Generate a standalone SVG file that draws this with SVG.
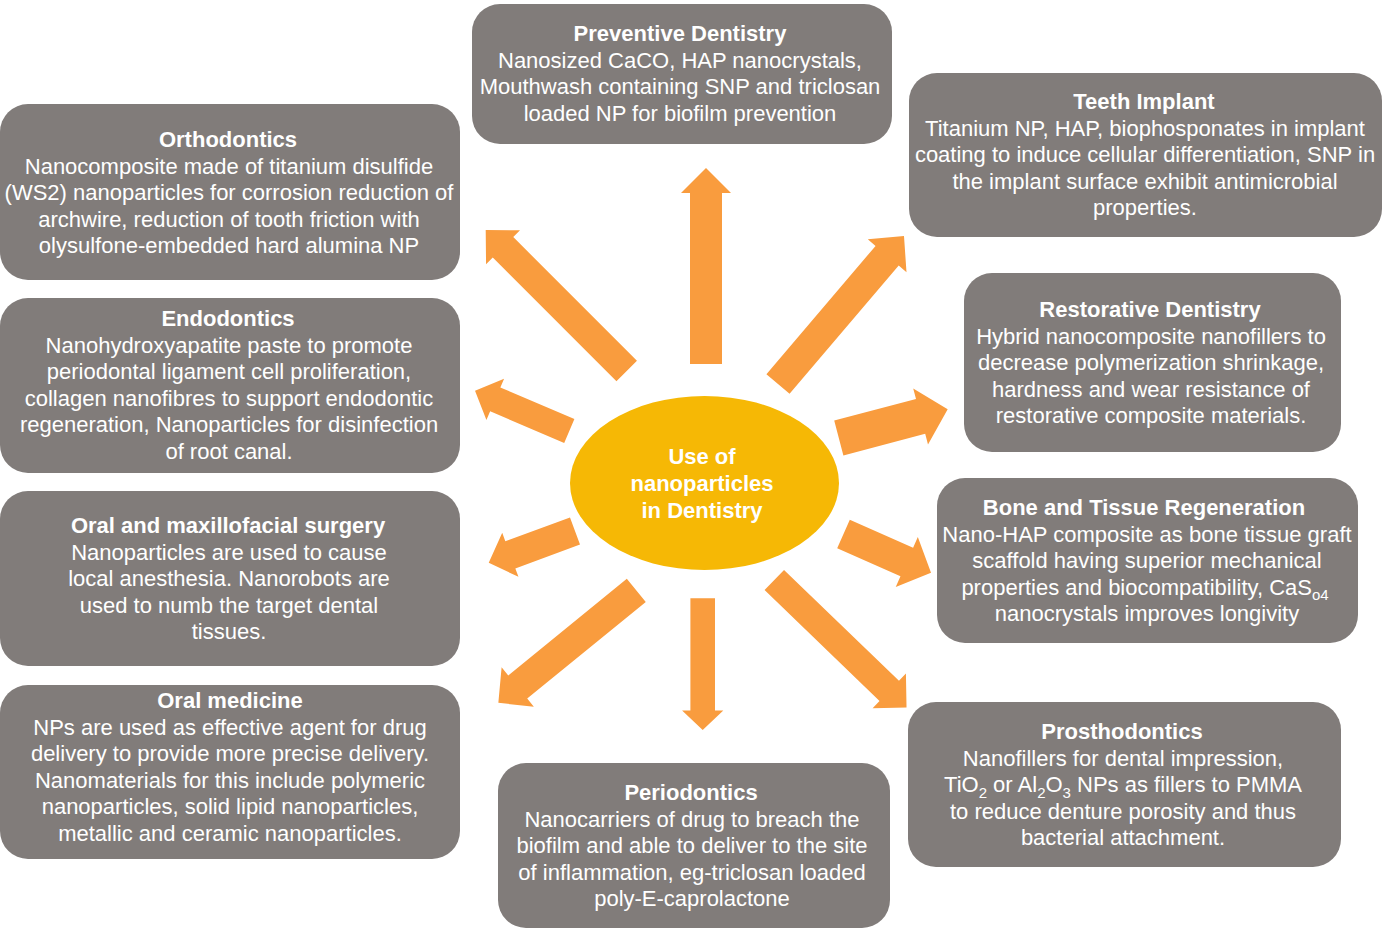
<svg xmlns="http://www.w3.org/2000/svg" width="1384" height="929" viewBox="0 0 1384 929">
<style>
.box{fill:#817c7a}
.arr{fill:#f99c3e}
text{font-family:"Liberation Sans",Arial,Helvetica,sans-serif;font-size:22px;fill:#ffffff;text-anchor:middle}
.t{font-weight:bold}
.sub{font-size:15px}
</style>
<rect width="1384" height="929" fill="#ffffff"/>
<g id="connectors">
<polygon class="arr" transform="translate(706,364) rotate(-90)" points="0,-16 171,-16 171,-25 196,0 171,25 171,16 0,16"/>
<polygon class="arr" transform="translate(778,384) rotate(-49.6)" points="0,-15.2 168.4,-15.2 168.4,-25.4 194.4,0 168.4,25.4 168.4,15.2 0,15.2"/>
<polygon class="arr" transform="translate(626.7,371) rotate(-135)" points="0,-14.5 174.9,-14.5 174.9,-24 199.4,0 174.9,24 174.9,14.5 0,14.5"/>
<polygon class="arr" transform="translate(838.8,438) rotate(-14.76)" points="0,-18 84.6,-18 84.6,-29 112.6,0 84.6,29 84.6,18 0,18"/>
<polygon class="arr" transform="translate(569.3,431) rotate(-156.9)" points="0,-13 80.5,-13 80.5,-22.5 102.5,0 80.5,22.5 80.5,13 0,13"/>
<polygon class="arr" transform="translate(575,531) rotate(159.8)" points="0,-14.5 68.9,-14.5 68.9,-23.5 91.9,0 68.9,23.5 68.9,14.5 0,14.5"/>
<polygon class="arr" transform="translate(636.3,590.3) rotate(140.8)" points="0,-15 153,-15 153,-25.5 178,0 153,25.5 153,15 0,15"/>
<polygon class="arr" transform="translate(702.7,598.3) rotate(90)" points="0,-12.3 112.2,-12.3 112.2,-20.6 131.7,0 112.2,20.6 112.2,12.3 0,12.3"/>
<polygon class="arr" transform="translate(774.3,580) rotate(43.96)" points="0,-14 159.7,-14 159.7,-24 183.7,0 159.7,24 159.7,14 0,14"/>
<polygon class="arr" transform="translate(843.5,534) rotate(23.86)" points="0,-15.6 69.2,-15.6 69.2,-27.3 95.7,0 69.2,27.3 69.2,15.6 0,15.6"/>
</g>
<g id="center">
<ellipse cx="704.5" cy="483" rx="134.5" ry="87" fill="#f6b805"/>
<text class="t" x="702" y="464">Use of</text>
<text class="t" x="702" y="491">nanoparticles</text>
<text class="t" x="702" y="518">in Dentistry</text>
</g>
<g id="preventive">
<rect class="box" x="472" y="4" width="420" height="140" rx="28"/>
<text class="t" x="680" y="41">Preventive Dentistry</text>
<text x="680" y="67.5">Nanosized CaCO, HAP nanocrystals,</text>
<text x="680" y="94">Mouthwash containing SNP and triclosan</text>
<text x="680" y="120.5">loaded NP for biofilm prevention</text>
</g>
<g id="implant">
<rect class="box" x="909" y="73" width="473" height="164" rx="28"/>
<text class="t" x="1144" y="109">Teeth Implant</text>
<text x="1145" y="135.5">Titanium NP, HAP, biophosponates in implant</text>
<text x="1145" y="162">coating to induce cellular differentiation, SNP in</text>
<text x="1145" y="188.5">the implant surface exhibit antimicrobial</text>
<text x="1145" y="215">properties.</text>
</g>
<g id="orthodontics">
<rect class="box" x="0" y="104" width="460" height="176" rx="28"/>
<text class="t" x="228" y="147">Orthodontics</text>
<text x="229" y="173.6">Nanocomposite made of titanium disulfide</text>
<text x="229" y="200.2">(WS2) nanoparticles for corrosion reduction of</text>
<text x="229" y="226.8">archwire, reduction of tooth friction with</text>
<text x="229" y="253.4">olysulfone-embedded hard alumina NP</text>
</g>
<g id="endodontics">
<rect class="box" x="0" y="298" width="460" height="175" rx="28"/>
<text class="t" x="228" y="326">Endodontics</text>
<text x="229" y="352.5">Nanohydroxyapatite paste to promote</text>
<text x="229" y="379">periodontal ligament cell proliferation,</text>
<text x="229" y="405.5">collagen nanofibres to support endodontic</text>
<text x="229" y="432">regeneration, Nanoparticles for disinfection</text>
<text x="229" y="458.5">of root canal.</text>
</g>
<g id="surgery">
<rect class="box" x="0" y="491" width="460" height="175" rx="28"/>
<text class="t" x="228" y="533">Oral and maxillofacial surgery</text>
<text x="229" y="559.5">Nanoparticles are used to cause</text>
<text x="229" y="586">local anesthesia. Nanorobots are</text>
<text x="229" y="612.5">used to numb the target dental</text>
<text x="229" y="639">tissues.</text>
</g>
<g id="medicine">
<rect class="box" x="0" y="685" width="460" height="174" rx="28"/>
<text class="t" x="230" y="708">Oral medicine</text>
<text x="230" y="734.5">NPs are used as effective agent for drug</text>
<text x="230" y="761">delivery to provide more precise delivery.</text>
<text x="230" y="787.5">Nanomaterials for this include polymeric</text>
<text x="230" y="814">nanoparticles, solid lipid nanoparticles,</text>
<text x="230" y="840.5">metallic and ceramic nanoparticles.</text>
</g>
<g id="restorative">
<rect class="box" x="964" y="273" width="377" height="179" rx="28"/>
<text class="t" x="1150" y="317">Restorative Dentistry</text>
<text x="1151" y="343.5">Hybrid nanocomposite nanofillers to</text>
<text x="1151" y="370">decrease polymerization shrinkage,</text>
<text x="1151" y="396.5">hardness and wear resistance of</text>
<text x="1151" y="423">restorative composite materials.</text>
</g>
<g id="bone">
<rect class="box" x="937" y="478" width="421" height="165" rx="28"/>
<text class="t" x="1144" y="515">Bone and Tissue Regeneration</text>
<text x="1147" y="541.5">Nano-HAP composite as bone tissue graft</text>
<text x="1147" y="568">scaffold having superior mechanical</text>
<text x="1145" y="594.5">properties and biocompatibility, CaS<tspan class="sub" dy="5">o4</tspan></text>
<text x="1147" y="621">nanocrystals improves longivity</text>
</g>
<g id="prosthodontics">
<rect class="box" x="908" y="702" width="433" height="165" rx="28"/>
<text class="t" x="1122" y="739">Prosthodontics</text>
<text x="1123" y="765.5">Nanofillers for dental impression,</text>
<text x="1123" y="792">TiO<tspan class="sub" dy="6">2</tspan><tspan dy="-6"> or Al</tspan><tspan class="sub" dy="6">2</tspan><tspan dy="-6">O</tspan><tspan class="sub" dy="6">3</tspan><tspan dy="-6"> NPs as fillers to PMMA</tspan></text>
<text x="1123" y="818.5">to reduce denture porosity and thus</text>
<text x="1123" y="845">bacterial attachment.</text>
</g>
<g id="periodontics">
<rect class="box" x="498" y="763" width="392" height="165" rx="28"/>
<text class="t" x="691" y="800">Periodontics</text>
<text x="692" y="826.5">Nanocarriers of drug to breach the</text>
<text x="692" y="853">biofilm and able to deliver to the site</text>
<text x="692" y="879.5">of inflammation, eg-triclosan loaded</text>
<text x="692" y="906">poly-E-caprolactone</text>
</g>
</svg>
